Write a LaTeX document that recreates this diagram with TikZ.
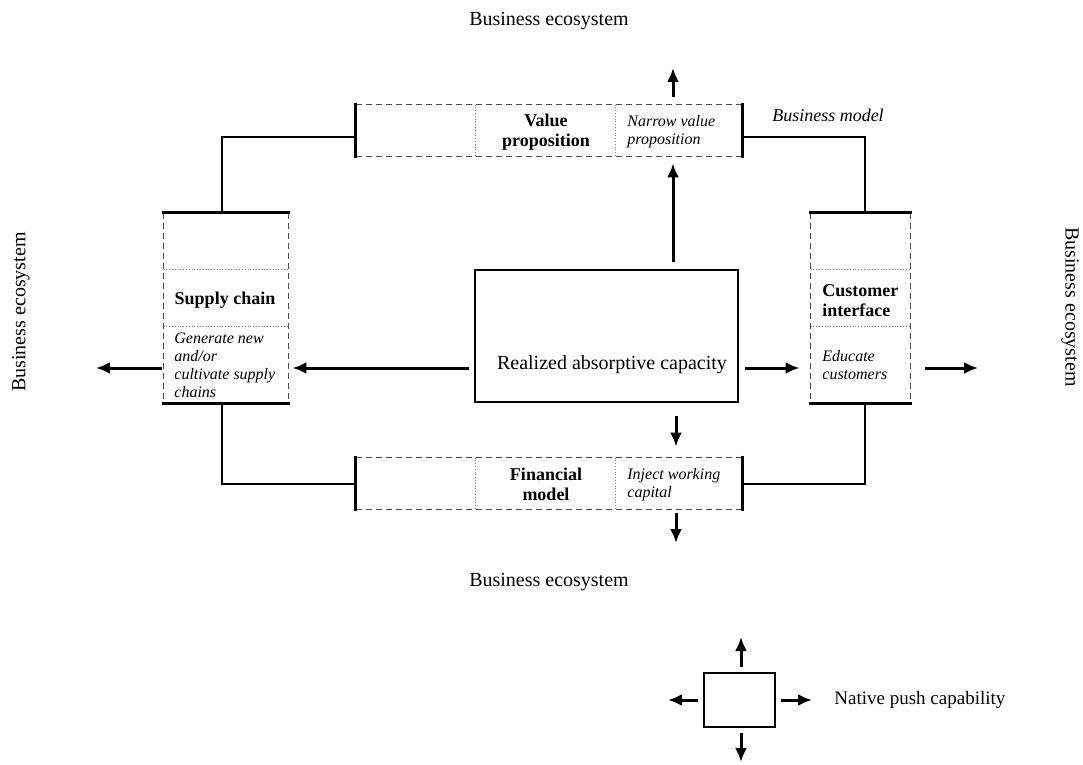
\documentclass[tikz,border=0pt]{standalone}
\usepackage{fontspec}
\setmainfont{Liberation Serif}
\usetikzlibrary{positioning,arrows,arrows.meta}

\begin{document}
\begin{tikzpicture}[x = .5pt, y = -.5pt, >={Latex[length=7pt, width=6pt]},
  arr/.style = {->, line width = 1.5pt},
  conn/.style = {line width = 1pt},
  bar/.style = {line width = 1.8pt},
  rim/.style = {densely dashed, line width = .4pt, black!70},
  divider/.style = {densely dotted, line width = .4pt, black!50},
  hbox/.style = {inner sep = 0pt, minimum width = 193pt, minimum height = 25.5pt},
  vbox/.style = {inner sep = 0pt, minimum width = #1, minimum height = 95pt},
  title/.style = {inner sep = 0pt, font = \fontsize{9}{10}\selectfont\bfseries, align = center},
  note/.style = {inner sep = 0pt, font = \fontsize{8}{9}\selectfont\itshape, align = left, anchor = west},
  eco/.style = {inner sep = 0pt, font = \fontsize{10}{12}\selectfont}]
\useasboundingbox (0,0) rectangle (1083,765);

\node[hbox] (vp) at (549,130.5) {};
\node[hbox] (fm) at (549,483.5) {};
\node[vbox = 62pt] (sc) at (226,308) {};
\node[vbox = 49.5pt] (ci) at (860.5,308) {};
\node[draw, line width = .6pt, inner sep = 0pt, minimum width = 131.5pt, minimum height = 66pt] (cap) at (606.5,336) {};

\foreach \b in {vp,fm} {
  \draw[rim] (\b.north west) -- (\b.north east) (\b.south west) -- (\b.south east);
  \draw[divider] ([xshift = 60pt]\b.north west) -- ([xshift = 60pt]\b.south west)
                 ([xshift = 130pt]\b.north west) -- ([xshift = 130pt]\b.south west);
  \draw[bar] ([yshift = 1pt]\b.north west) -- ([yshift = -1pt]\b.south west)
             ([yshift = 1pt]\b.north east) -- ([yshift = -1pt]\b.south east);
}
\foreach \b in {sc,ci} {
  \draw[rim] (\b.north west) -- (\b.south west) (\b.north east) -- (\b.south east);
  \draw[divider] ([yshift = -28.5pt]\b.north west) -- ([yshift = -28.5pt]\b.north east)
                 ([yshift = -57pt]\b.north west) -- ([yshift = -57pt]\b.north east);
  \draw[bar] ([xshift = -1pt]\b.north west) -- ([xshift = 1pt]\b.north east)
             ([xshift = -1pt]\b.south west) -- ([xshift = 1pt]\b.south east);
}

\draw[conn] ([yshift = -3.5pt]vp.west) -| ([xshift = -2pt]sc.north);
\draw[conn] ([yshift = -3.5pt]vp.east) -| ([xshift = 2pt]ci.north);
\draw[conn] (fm.west) -| ([xshift = -2pt]sc.south);
\draw[conn] (fm.east) -| ([xshift = 2pt]ci.south);

\coordinate (up) at (673,68);
\coordinate (dn) at (676,543);
\coordinate (lt) at (96,368);
\coordinate (rt) at (978,368);
\draw[arr, shorten <= 3.5pt, shorten >= 3.5pt] (up |- cap.north) -- (up |- vp.south);
\draw[arr, shorten <= 4pt] (up |- vp.north) -- (up);
\draw[arr, shorten <= 6.5pt, shorten >= 5.5pt] (dn |- cap.south) -- (dn |- fm.north);
\draw[arr, shorten <= 2pt] (dn |- fm.south) -- (dn);
\draw[arr, shorten <= 2.5pt, shorten >= 2pt] (cap.west |- lt) -- (sc.east |- lt);
\draw[arr, shorten <= 1pt] (sc.west |- lt) -- (lt);
\draw[arr, shorten <= 3pt, shorten >= 5.5pt] (cap.east |- rt) -- (ci.west |- rt);
\draw[arr, shorten <= 7.5pt] (ci.east |- rt) -- (rt);

\node[title] (vpt) at (546,132) {Value\\proposition};
\node[note] (vpn) at (627,132) {Narrow value\\proposition};
\node[title] (fmt) at (546,484) {Financial\\model};
\node[note] (fmn) at (627,485) {Inject working\\capital};
\node[title] (sct) at (225,300) {Supply chain};
\node[note] (scn) at (174,365) {Generate new\\and/or\\cultivate supply\\chains};
\node[title, align = left, anchor = west] (cit) at (822,301) {Customer\\interface};
\node[note] (cin) at (822,365) {Educate\\customers};
\node[eco] (capt) at (612,365) {Realized absorptive capacity};

\node[eco] (ecotop) at (549,21) {Business ecosystem};
\node[eco] (ecobot) at (549,582) {Business ecosystem};
\node[eco, rotate = 90] (ecoleft) at (21,312) {Business ecosystem};
\node[eco, rotate = -90] (ecoright) at (1070,307) {Business ecosystem};
\node[eco, font = \fontsize{9}{11}\selectfont\itshape] (bm) at (828,115) {Business model};

\node[draw, line width = .8pt, inner sep = 0pt, minimum width = 35.5pt, minimum height = 27pt] (push) at (739.5,700) {};
\coordinate (pu) at (741,637);
\coordinate (pd) at (741,762);
\coordinate (pl) at (668,700);
\coordinate (pr) at (812,700);
\draw[arr, shorten <= 2.5pt] (pu |- push.north) -- (pu);
\draw[arr, shorten <= 2.5pt] (pd |- push.south) -- (pd);
\draw[arr, shorten <= 2.5pt] (push.west) -- (pl);
\draw[arr, shorten <= 2.5pt] (push.east) -- (pr);
\node[eco, anchor = west, font = \fontsize{9.5}{11}\selectfont] (pusht) at (834,700) {Native push capability};
\end{tikzpicture}
\end{document}
